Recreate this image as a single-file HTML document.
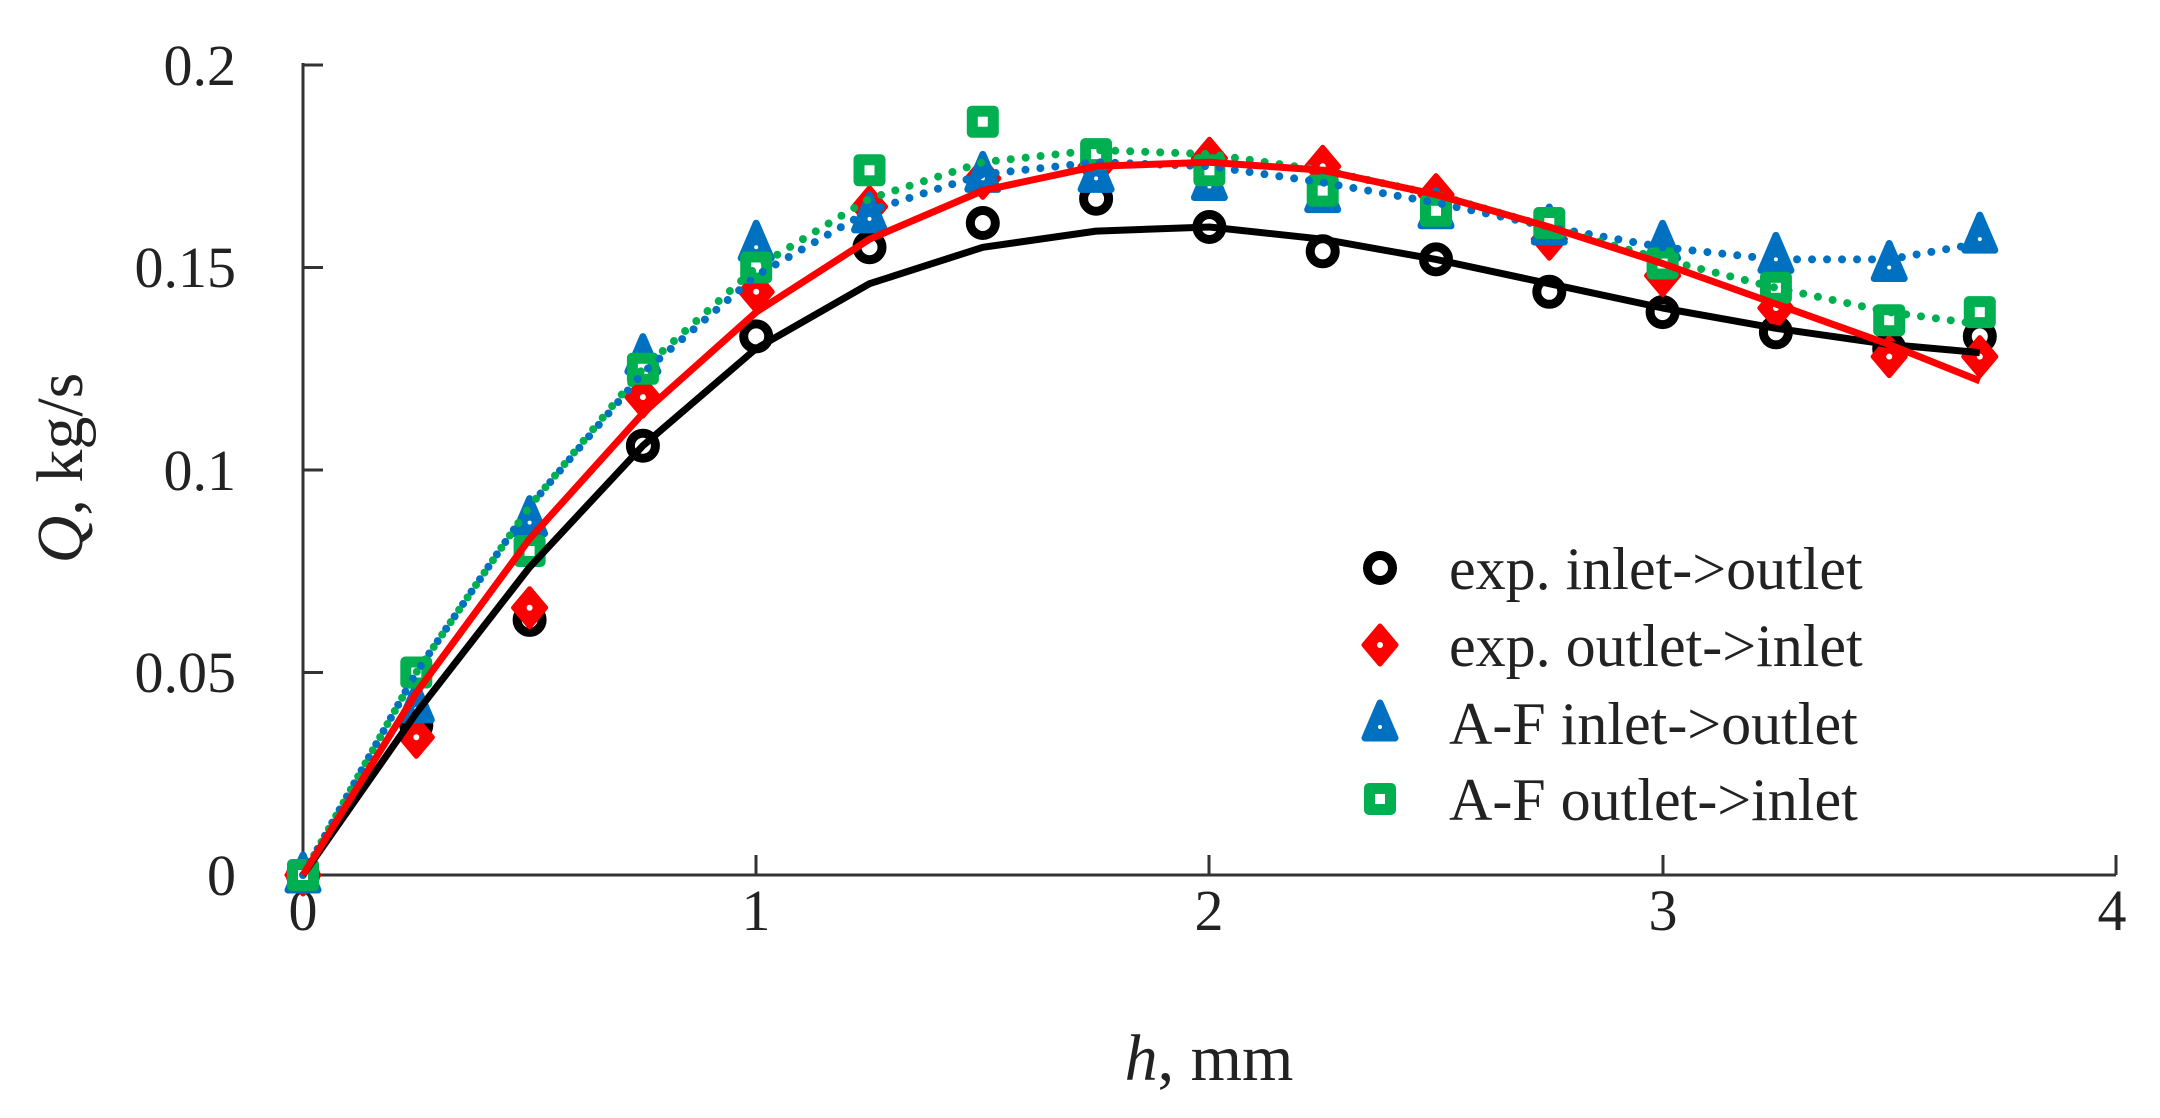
<!DOCTYPE html>
<html><head><meta charset="utf-8"><style>
html,body{margin:0;padding:0;background:#fff;}
svg{display:block;font-family:"Liberation Serif",serif;}
</style></head><body>
<svg width="2160" height="1118" viewBox="0 0 2160 1118" xmlns="http://www.w3.org/2000/svg" xmlns:xlink="http://www.w3.org/1999/xlink">
<defs>
<g id="K"><circle r="12.5" fill="#fff" stroke="#000" stroke-width="9"/></g>
<g id="R"><path d="M0,-19L16,0L0,19L-16,0Z" fill="#f00" stroke="#f00" stroke-width="5" stroke-linejoin="round"/><circle r="3" fill="#fff"/></g>
<g id="B"><path d="M0,-20L15,15L-15,15Z" fill="#0070c0" stroke="#0070c0" stroke-width="7" stroke-linejoin="round"/><circle cy="4" r="2" fill="#fff"/></g>
<g id="G"><rect x="-14" y="-14" width="28" height="28" rx="3" fill="#00b050" stroke="#00b050" stroke-width="4"/><rect x="-5" y="-5" width="10" height="10" fill="#fff"/></g>
</defs>
<rect width="2160" height="1118" fill="#fff"/>
<g stroke="#333" stroke-width="3" fill="none">
<line x1="303" y1="63" x2="303" y2="876"/>
<line x1="302" y1="875" x2="2116" y2="875"/>
<line x1="303" y1="65" x2="323" y2="65"/>
<line x1="303" y1="267.5" x2="323" y2="267.5"/>
<line x1="303" y1="470" x2="323" y2="470"/>
<line x1="303" y1="672.5" x2="323" y2="672.5"/>
<line x1="756" y1="875" x2="756" y2="855"/>
<line x1="1209" y1="875" x2="1209" y2="855"/>
<line x1="1663" y1="875" x2="1663" y2="855"/>
<line x1="2116" y1="875" x2="2116" y2="855"/>
</g>
<g font-size="58" fill="#222" text-anchor="end">
<text x="236" y="85">0.2</text>
<text x="236" y="287">0.15</text>
<text x="236" y="490">0.1</text>
<text x="236" y="692">0.05</text>
<text x="236" y="895">0</text>
</g>
<g font-size="58" fill="#222" text-anchor="middle">
<text x="303" y="930">0</text>
<text x="756" y="930">1</text>
<text x="1209" y="930">2</text>
<text x="1663" y="930">3</text>
<text x="2112" y="930">4</text>
</g>
<g font-size="66" fill="#222" text-anchor="middle">
<text x="1209" y="1080"><tspan font-style="italic">h</tspan>, mm</text>
<text transform="translate(82,468) rotate(-90)"><tspan font-style="italic">Q</tspan>, kg/s</text>
</g>

<g>
<use xlink:href="#K" x="303" y="875"/><use xlink:href="#K" x="416.3" y="725.2"/><use xlink:href="#K" x="529.6" y="619.9"/><use xlink:href="#K" x="642.9" y="445.7"/><use xlink:href="#K" x="756.2" y="336.4"/><use xlink:href="#K" x="869.5" y="247.2"/><use xlink:href="#K" x="982.8" y="223"/><use xlink:href="#K" x="1096.1" y="198.7"/><use xlink:href="#K" x="1209.4" y="227"/><use xlink:href="#K" x="1322.7" y="251.3"/><use xlink:href="#K" x="1436" y="259.4"/><use xlink:href="#K" x="1549.3" y="291.8"/><use xlink:href="#K" x="1662.6" y="312.1"/><use xlink:href="#K" x="1775.9" y="332.3"/><use xlink:href="#K" x="1889.2" y="348.5"/><use xlink:href="#K" x="1979.8" y="336.4"/>
<use xlink:href="#R" x="303" y="875"/><use xlink:href="#R" x="416.3" y="737.3"/><use xlink:href="#R" x="529.6" y="607.7"/><use xlink:href="#R" x="642.9" y="397.1"/><use xlink:href="#R" x="756.2" y="291.8"/><use xlink:href="#R" x="869.5" y="206.7"/><use xlink:href="#R" x="982.8" y="178.4"/><use xlink:href="#R" x="1096.1" y="166.3"/><use xlink:href="#R" x="1209.4" y="158.2"/><use xlink:href="#R" x="1322.7" y="166.3"/><use xlink:href="#R" x="1436" y="194.6"/><use xlink:href="#R" x="1549.3" y="239.2"/><use xlink:href="#R" x="1662.6" y="275.6"/><use xlink:href="#R" x="1775.9" y="308"/><use xlink:href="#R" x="1889.2" y="356.6"/><use xlink:href="#R" x="1979.8" y="356.6"/>
<use xlink:href="#B" x="303" y="875"/><use xlink:href="#B" x="416.3" y="704.9"/><use xlink:href="#B" x="529.6" y="518.6"/><use xlink:href="#B" x="642.9" y="356.6"/><use xlink:href="#B" x="756.2" y="243.2"/><use xlink:href="#B" x="869.5" y="214.9"/><use xlink:href="#B" x="982.8" y="174.4"/><use xlink:href="#B" x="1096.1" y="174.4"/><use xlink:href="#B" x="1209.4" y="182.5"/><use xlink:href="#B" x="1322.7" y="194.6"/><use xlink:href="#B" x="1436" y="210.8"/><use xlink:href="#B" x="1549.3" y="227"/><use xlink:href="#B" x="1662.6" y="243.2"/><use xlink:href="#B" x="1775.9" y="255.4"/><use xlink:href="#B" x="1889.2" y="263.5"/><use xlink:href="#B" x="1979.8" y="235.1"/>
<use xlink:href="#G" x="303" y="875"/><use xlink:href="#G" x="416.3" y="672.5"/><use xlink:href="#G" x="529.6" y="551"/><use xlink:href="#G" x="642.9" y="368.8"/><use xlink:href="#G" x="756.2" y="267.5"/><use xlink:href="#G" x="869.5" y="170.3"/><use xlink:href="#G" x="982.8" y="121.7"/><use xlink:href="#G" x="1096.1" y="154.1"/><use xlink:href="#G" x="1209.4" y="170.3"/><use xlink:href="#G" x="1322.7" y="190.6"/><use xlink:href="#G" x="1436" y="210.8"/><use xlink:href="#G" x="1549.3" y="223"/><use xlink:href="#G" x="1662.6" y="263.5"/><use xlink:href="#G" x="1775.9" y="287.8"/><use xlink:href="#G" x="1889.2" y="320.2"/><use xlink:href="#G" x="1979.8" y="312.1"/>
</g>

<g fill="none" stroke-linejoin="round" stroke-linecap="round">
<polyline stroke="#0070c0" stroke-width="8" stroke-dasharray="0 15" points="303,875 416.3,672.5 529.6,506.5 642.9,372.8 756.2,275.6 869.5,210.8 982.8,174.4 1096.1,162.2 1209.4,166.3 1322.7,182.5 1436,202.7 1549.3,227 1662.6,247.3 1775.9,259.4 1889.2,259.4 1979.8,243.2"/>
<polyline stroke="#00b050" stroke-width="8" stroke-dasharray="0 15" stroke-dashoffset="7" points="303,875 416.3,672.5 529.6,506.5 642.9,368.8 756.2,267.5 869.5,198.7 982.8,162.2 1096.1,150.1 1209.4,154.1 1322.7,170.3 1436,194.6 1549.3,227 1662.6,259.4 1775.9,287.8 1889.2,312.1 1979.8,324.2"/>
<polyline stroke="#000" stroke-width="7" stroke-linecap="butt" points="303,875 416.3,713 529.6,567.2 642.9,445.7 756.2,348.5 869.5,283.7 982.8,247.3 1096.1,231.1 1209.4,227 1322.7,239.2 1436,259.4 1549.3,283.7 1662.6,308 1775.9,328.3 1889.2,344.5 1979.8,352.6"/>
<polyline stroke="#f00" stroke-width="7" stroke-linecap="butt" points="303,875 416.3,692.8 529.6,538.9 642.9,413.3 756.2,312.1 869.5,239.2 982.8,190.6 1096.1,166.3 1209.4,162.2 1322.7,170.3 1436,194.6 1549.3,227 1662.6,263.5 1775.9,304 1889.2,344.5 1979.8,380.9"/>
</g>

<use xlink:href="#K" x="1380" y="568"/>
<use xlink:href="#R" x="1380" y="645"/>
<use xlink:href="#B" x="1380" y="723"/>
<use xlink:href="#G" x="1380" y="799"/>
<g font-size="60" fill="#222">
<text x="1449" y="589">exp. inlet-&gt;outlet</text>
<text x="1449" y="666">exp. outlet-&gt;inlet</text>
<text x="1449" y="744">A-F inlet-&gt;outlet</text>
<text x="1449" y="820">A-F outlet-&gt;inlet</text>
</g>
</svg>
</body></html>
